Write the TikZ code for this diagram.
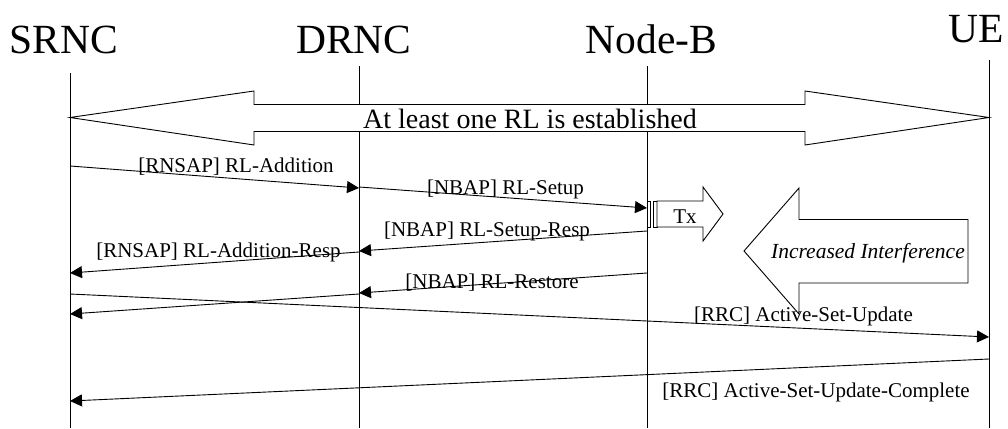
\documentclass[tikz,border=0pt]{standalone}
\usepackage{fontspec}
\setmainfont{Liberation Serif}
\usetikzlibrary{arrows.meta}
\begin{document}
\begin{tikzpicture}[x=1pt,y=-1pt,
  life/.style={line width=0.9pt},
  msg/.style={line width=0.9pt,-{Triangle[length=12pt,width=12pt]}},
  lbl/.style={font=\fontsize{21}{21}\selectfont, anchor=base, inner sep=0pt},
  ttl/.style={font=\fontsize{41.5}{41.5}\selectfont, anchor=base, inner sep=0pt},
  shp/.style={draw, fill=white, line width=0.9pt, line join=miter}]
\useasboundingbox (0,0) rectangle (1008,428);

% titles
\node[ttl] (tS) at (64,54) {SRNC};
\node[ttl] (tD) at (354,54) {DRNC};
\node[ttl] (tN) at (651.5,54) {Node-B};
\node[ttl] (tU) at (976.5,43) {UE};

% lifelines
\coordinate (S0) at (70,73);   \coordinate (S1) at (70,428);
\coordinate (D0) at (359,66);  \coordinate (D1) at (359,428);
\coordinate (N0) at (647,66);  \coordinate (N1) at (647,428);
\coordinate (U0) at (989,60);  \coordinate (U1) at (989,428);
\draw[life] (S0) -- (S1);
\draw[life] (D0) -- (D1);
\draw[life] (N0) -- (N1);
\draw[life] (U0) -- (U1);

% double arrow
\draw[shp] (70,117.5) -- (254,91) -- (254,104.5) -- (805,104.5) -- (805,91)
  -- (989,117.5) -- (805,145) -- (805,131.5) -- (254,131.5) -- (254,145) -- cycle;
\node[font=\fontsize{28}{28}\selectfont, anchor=base, inner sep=0pt] (est) at (530,128) {At least one RL is established};

% Tx arrow
\draw[shp] (647,201) rectangle (650.5,227);
\draw[shp] (653,201) rectangle (657,227);
\draw[shp] (657,201) -- (703,201) -- (703,187) -- (723,214) -- (703,241) -- (703,227) -- (657,227) -- cycle;
\node[lbl] (tx) at (685,223) {Tx};

% Increased interference arrow
\draw[shp] (744,251) -- (799,188) -- (799,219.5) -- (968,219.5) -- (968,283) -- (799,283) -- (799,314) -- cycle;
\node[lbl, font=\fontsize{21.5}{21.5}\selectfont\itshape] (ii) at (868,258) {Increased Interference};

% message end points
\coordinate (m1a) at (70,166);  \coordinate (m1b) at (359,188);
\coordinate (m2a) at (359,187); \coordinate (m2b) at (647,208);
\coordinate (m3a) at (647,231); \coordinate (m3b) at (359,251);
\coordinate (m4a) at (359,252); \coordinate (m4b) at (70,273);
\coordinate (m5a) at (647,273); \coordinate (m5b) at (359,293);
\coordinate (m6a) at (359,294); \coordinate (m6b) at (70,314);
\coordinate (m7a) at (70,294);  \coordinate (m7b) at (989,337);
\coordinate (m8a) at (989,359); \coordinate (m8b) at (70,401);

\draw[msg] (m1a) -- (m1b);
\draw[msg] (m2a) -- (m2b);
\draw[msg] (m3a) -- (m3b);
\draw[msg] (m4a) -- (m4b);
\draw[msg] (m5a) -- (m5b);
\draw[msg] (m6a) -- (m6b);
\draw[msg] (m7a) -- (m7b);
\draw[msg] (m8a) -- (m8b);

% labels
\node[lbl] (l1) at (236,172) {[RNSAP] RL-Addition};
\node[lbl] (l2) at (505.5,194) {[NBAP] RL-Setup};
\node[lbl] (l3) at (487,236) {[NBAP] RL-Setup-Resp};
\node[lbl] (l4) at (218.5,257) {[RNSAP] RL-Addition-Resp};
\node[lbl] (l5) at (492,288) {[NBAP] RL-Restore};
\node[lbl] (l7) at (803.5,321) {[RRC] Active-Set-Update};
\node[lbl] (l8) at (816,397) {[RRC] Active-Set-Update-Complete};
\end{tikzpicture}
\end{document}
